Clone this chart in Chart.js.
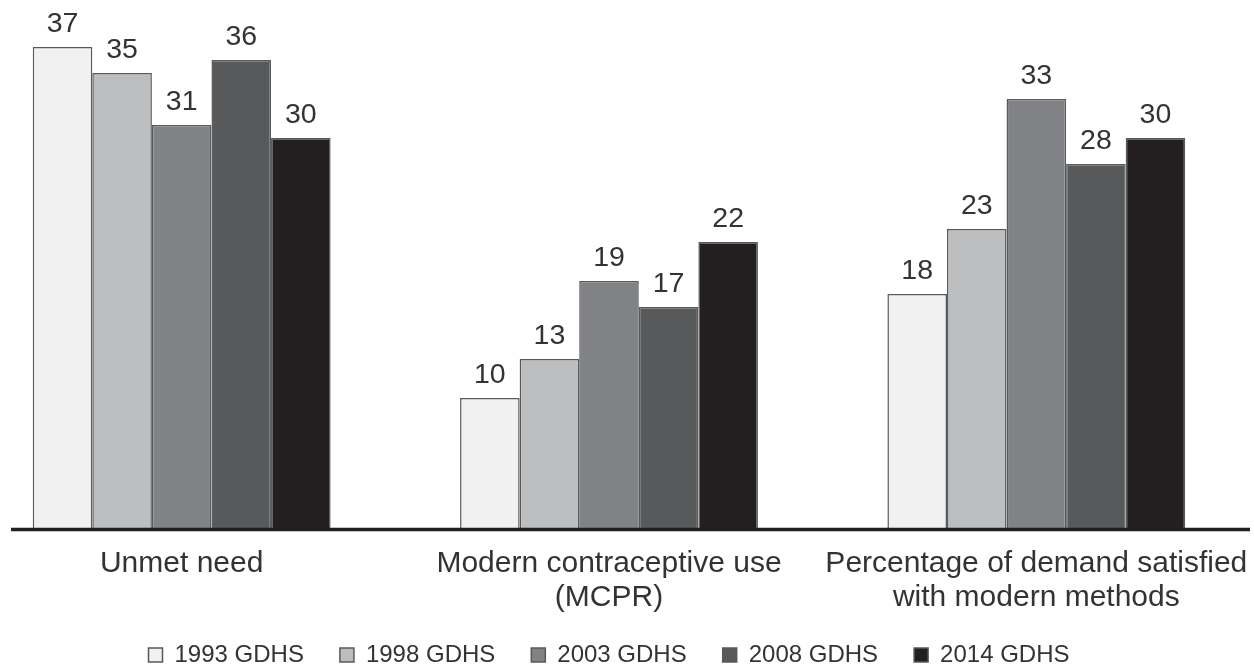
<!DOCTYPE html>
<html>
<head>
<meta charset="utf-8">
<title>GDHS family planning indicators</title>
<script src="https://cdn.jsdelivr.net/npm/chart.js@4.4.1/dist/chart.umd.min.js"></script>
<style>
    html, body {
        margin: 0;
        padding: 0;
        background: #ffffff;
        overflow: hidden;
    }
    #wrap {
        position: relative;
        width: 1254px;
        height: 669px;
        overflow: hidden;
    }
    #box {
        position: absolute;
        left: -32px;
        top: 0;
        width: 1302px;
        height: 688px;
    }
</style>
</head>
<body>
<div id="wrap">
    <div id="box"><canvas id="myChart"></canvas></div>
</div>
<script>
// Categories (multi-line labels) and survey values
const categories = [
    ['Unmet need'],
    ['Modern contraceptive use', '(MCPR)'],
    ['Percentage of demand satisfied', 'with modern methods']
];
const surveys = ['1993 GDHS', '1998 GDHS', '2003 GDHS', '2008 GDHS', '2014 GDHS'];

const values1993 = [37, 10, 18];
const values1998 = [35, 13, 23];
const values2003 = [31, 19, 33];
const values2008 = [36, 17, 28];
const values2014 = [30, 22, 30];

const barColors = ['#f1f1f2', '#bcbec0', '#808285', '#58595b', '#231f20'];

const textColor = '#333333';
const fontFamily = "'Liberation Sans', Arial, Helvetica, sans-serif";

// Draws the numbers on top of each bar
const valueLabels = {
    id: 'valueLabels',
    afterDatasetsDraw(chart) {
        const ctx = chart.ctx;
        ctx.save();
        ctx.font = '28.5px ' + fontFamily;
        ctx.fillStyle = textColor;
        ctx.textAlign = 'center';
        ctx.textBaseline = 'alphabetic';
        chart.data.datasets.forEach((ds, i) => {
            const meta = chart.getDatasetMeta(i);
            meta.data.forEach((bar, j) => {
                ctx.fillText(String(ds.data[j]), bar.x, bar.y - 15);
            });
        });
        ctx.restore();
    }
};

// Thick baseline under the bars
const baseLine = {
    id: 'baseLine',
    afterDatasetsDraw(chart) {
        const ctx = chart.ctx;
        const y = chart.scales.y.getPixelForValue(0);
        ctx.save();
        ctx.strokeStyle = '#231f20';
        ctx.lineWidth = 3.5;
        ctx.beginPath();
        ctx.moveTo(43, y + 1.5);
        ctx.lineTo(chart.chartArea.right, y + 1.5);
        ctx.stroke();
        ctx.restore();
    }
};

// Pull the legend up a little so it sits closer to the category labels
const legendShift = {
    id: 'legendShift',
    afterLayout(chart) {
        if (chart.legend) {
            chart.legend.top -= 11;
            chart.legend.bottom -= 11;
        }
    }
};

function buildDatasets() {
    const series = [values1993, values1998, values2003, values2008, values2014];
    return series.map((vals, i) => ({
        label: surveys[i],
        data: vals,
        backgroundColor: barColors[i],
        borderColor: '#58595b',
        borderWidth: 1.5,
        categoryPercentage: 0.697,
        barPercentage: 1.0
    }));
}

const ctx = document.getElementById('myChart').getContext('2d');
window.myChart = new Chart(ctx, {
    type: 'bar',
    data: {
        labels: categories,
        datasets: buildDatasets()
    },
    options: {
        responsive: true,
        maintainAspectRatio: false,
        animation: false,
        layout: {
            // right padding leaves room for the long last label (off screen)
            padding: { top: 8, left: 0, right: 20, bottom: 0 }
        },
        plugins: {
            tooltip: { enabled: false },
            legend: {
                position: 'bottom',
                labels: {
                    boxWidth: 14,
                    boxHeight: 14,
                    padding: 36,
                    color: textColor,
                    font: { family: fontFamily, size: 24 }
                }
            }
        },
        scales: {
            x: {
                grid: { display: false, drawTicks: false },
                border: { display: false },
                ticks: {
                    padding: 18,
                    color: textColor,
                    maxRotation: 0,
                    autoSkip: false,
                    font: { family: fontFamily, size: 30, lineHeight: 1.15 }
                },
                afterFit: function(scale) {
                    scale.height = 90;
                }
            },
            y: {
                display: false,
                min: 0,
                max: 40
            }
        }
    },
    plugins: [valueLabels, baseLine, legendShift]
});
</script>
</body>
</html>
